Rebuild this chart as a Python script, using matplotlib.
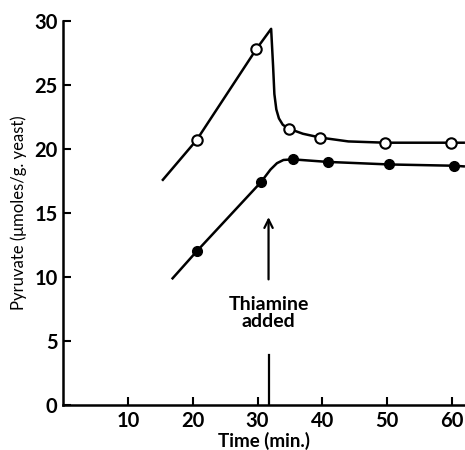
import matplotlib
matplotlib.use("Agg")
from matplotlib import pyplot as plt

# curve traced with open circles (line vertices, then measured points)
open_line_x = [15.4, 20.6, 29.8, 32.1, 32.4, 32.6, 32.9, 33.3, 33.9, 34.8, 37.0, 39.7, 44.0, 49.7, 59.8, 61.8]
open_line_y = [17.6, 20.7, 27.8, 29.4, 26.5, 24.3, 23.1, 22.4, 21.9, 21.6, 21.2, 20.9, 20.6, 20.5, 20.5, 20.5]
open_pts_x = [20.6, 29.8, 34.8, 39.7, 49.7, 59.8]
open_pts_y = [20.7, 27.8, 21.6, 20.9, 20.5, 20.5]

# curve traced with filled circles
fill_line_x = [16.9, 20.6, 30.5, 32.0, 33.0, 34.0, 35.4, 40.8, 50.3, 60.3, 61.8]
fill_line_y = [9.9, 12.0, 17.4, 18.4, 18.9, 19.15, 19.2, 19.0, 18.8, 18.7, 18.65]
fill_pts_x = [20.6, 30.5, 35.4, 40.8, 50.3, 60.3]
fill_pts_y = [12.0, 17.4, 19.2, 19.0, 18.8, 18.7]

thiamine_t = 31.7
xticks = [10, 20, 30, 40, 50, 60]
yticks = [0, 5, 10, 15, 20, 25, 30]

plt.rcParams['font.family'] = ['Lato', 'DejaVu Sans']
plt.rcParams['font.weight'] = 'bold'

fig = plt.figure(figsize=(4.65, 4.5), dpi=100)
ax = fig.add_axes([0.1355, 0.1, 0.8645, 0.853])

ax.plot(open_line_x, open_line_y, color='black', lw=1.8, solid_joinstyle='round')
ax.plot(open_pts_x, open_pts_y, 'o', ms=7.5, mfc='white', mec='black', mew=1.5)
ax.plot(fill_line_x, fill_line_y, color='black', lw=1.8, solid_joinstyle='round')
ax.plot(fill_pts_x, fill_pts_y, 'o', ms=7, mfc='black', mec='black')

ax.annotate('', xy=(thiamine_t, 14.9), xytext=(thiamine_t, 9.6),
            arrowprops=dict(arrowstyle='->', color='black', lw=1.6, mutation_scale=15))
ax.text(thiamine_t, 7.2, 'Thiamine\nadded', ha='center', va='center', fontsize=14,
        fontweight='bold', linespacing=0.95)
ax.plot([thiamine_t, thiamine_t], [0, 3.9], color='black', lw=1.6)

ax.set_xlim(0, 62)
ax.set_ylim(0, 30)
ax.set_xticks(xticks)
ax.set_yticks(yticks)
ax.spines['top'].set_visible(False)
ax.spines['right'].set_visible(False)
ax.spines['left'].set_linewidth(1.8)
ax.spines['bottom'].set_linewidth(1.8)
ax.tick_params(direction='in', length=6, width=1.5, labelsize=14.5, pad=4)
for lab in ax.get_xticklabels() + ax.get_yticklabels():
    lab.set_fontweight('bold')

ax.set_xlabel('Time (min.)', fontsize=13.5, fontweight='bold', labelpad=1)
ax.set_ylabel('Pyruvate (\u03bcmoles/g. yeast)', fontsize=12, fontweight='normal', labelpad=5)

fig.savefig('out.png', dpi=100)
